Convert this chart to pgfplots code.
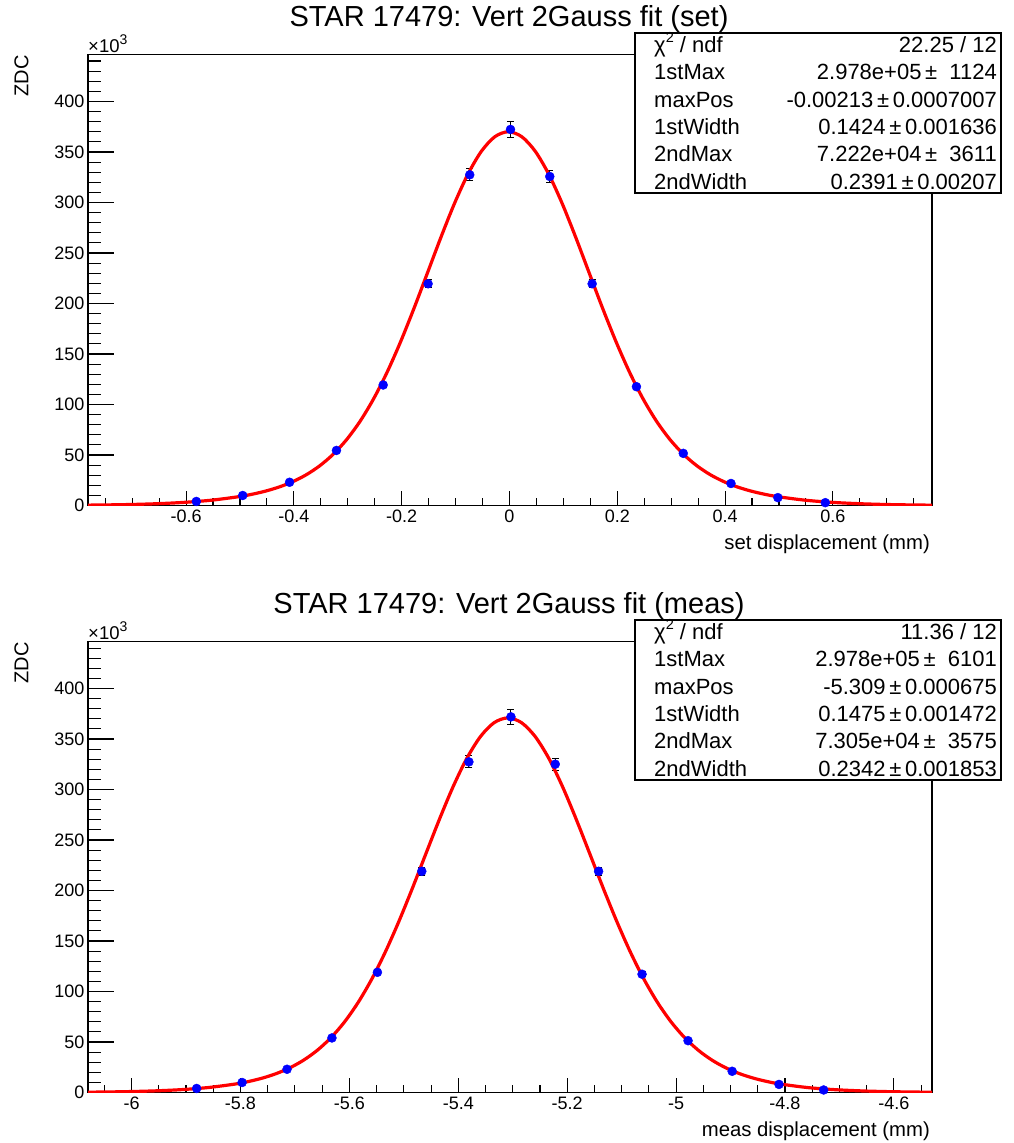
\documentclass[border=0pt]{standalone}
\usepackage{pgfplots}
\pgfplotsset{compat=1.18}
\usepackage{fontspec}
\setmainfont{Liberation Sans}

\newcommand{\fs}[1]{\fontsize{#1}{#1}\selectfont}

\pgfplotsset{
  rootbase/.style={
    scale only axis, width=844pt, height=451pt,
    anchor=south west,
    axis line style={line width=1.4pt, black},
    tick align=inside, xtick pos=bottom, ytick pos=left,
    ymin=0, ymax=446.5,
    tick style={black, line width=1.1pt},
    ticklabel style={font=\fs{18}},
    yticklabel style={xshift=0pt},
    xticklabel style={yshift=-1pt},
    scaled ticks=false,
  },
  % x ticks + data
  rootaxis/.style={rootbase,
    ytick=\empty, minor ytick={},
    major tick length=14pt, minor tick length=7.3pt,
  },
  % y ticks only
  yaxis/.style={rootbase,
    xtick=\empty, minor xtick={},
    ytick={0,50,100,150,200,250,300,350,400},
    yticklabels={0,50,100,150,200,250,300,350,400},
    minor ytick={10,20,...,440},
    major tick length=25.7pt, minor tick length=13pt,
  },
  ptstyle/.style={only marks, mark=*, mark size=4.5pt, color=blue,
    mark options={fill=blue, draw=blue},
    error bars/.cd, y dir=both, y explicit,
    error bar style={black, line width=1pt},
    error mark options={rotate=90, black, mark size=3.5pt, line width=1pt}},
  fitstyle/.style={red, line width=3.2pt, no markers, smooth},
}

\pgfplotstableread{
x y e
-0.581 4.0 0.5
-0.495 9.9 0.6
-0.408 23.0 0.8
-0.321 54.5 1.5
-0.2343 119.3 2.5
-0.151 219.5 4
-0.0737 327.4 6
0.0019 372.3 7.5
0.0748 325.7 6
0.1534 219.5 4
0.2356 117.6 2.5
0.3225 51.6 1.5
0.411 21.8 0.8
0.498 7.8 0.5
0.586 2.8 0.5
}\setdata

\pgfplotstableread{
x y e
-5.8805 4.0 0.5
-5.797 9.9 0.6
-5.7145 23.0 0.8
-5.632 54.0 1.5
-5.5485 119.0 2.5
-5.467 219.0 4
-5.3805 327.3 6
-5.3033 371.9 7.5
-5.2219 325.0 6
-5.1423 219.0 4
-5.0625 117.1 2.5
-4.978 51.3 1.5
-4.897 21.0 0.8
-4.811 8.0 0.5
-4.729 2.5 0.5
}\measdata

\begin{document}
\begin{tikzpicture}[x=1pt,y=1pt]
\path[use as bounding box] (0,0) rectangle (1014,1143);

% ---------------- top panel ----------------
\begin{axis}[yaxis, at={(88pt,637.5pt)}, xmin=-0.782, xmax=0.784]
\end{axis}
\begin{axis}[rootaxis, at={(88pt,637.5pt)},
  xmin=-0.782, xmax=0.784,
  xtick={-0.6,-0.4,-0.2,0,0.2,0.4,0.6},
  xticklabels={-0.6,-0.4,-0.2,0,0.2,0.4,0.6},
  minor xtick={-0.75,-0.7,-0.65,-0.6,-0.55,-0.5,-0.45,-0.4,-0.35,-0.3,-0.25,-0.2,-0.15,-0.1,-0.05,0,0.05,0.1,0.15,0.2,0.25,0.3,0.35,0.4,0.45,0.5,0.55,0.6,0.65,0.7,0.75}]
\addplot[ptstyle] table[x=x, y=y, y error=e] {\setdata};
\addplot[fitstyle] coordinates {
(-0.79213,0.31) (-0.75213,0.53) (-0.70213,0.99) (-0.65213,1.80) (-0.60213,3.14)
(-0.55213,5.29) (-0.50213,8.74) (-0.47713,11.18) (-0.45213,14.31) (-0.42713,18.35)
(-0.40213,23.58) (-0.37713,30.40) (-0.35213,39.27) (-0.32713,50.69) (-0.30213,65.24)
(-0.27713,83.41) (-0.25213,105.58) (-0.22713,131.85) (-0.20213,161.96) (-0.17713,195.20)
(-0.15213,230.31) (-0.12713,265.58) (-0.10213,298.89) (-0.07713,327.98) (-0.05213,350.65)
(-0.02713,365.08) (-0.00213,370.02) (0.02287,365.08) (0.04787,350.65) (0.07287,327.98)
(0.09787,298.89) (0.12287,265.58) (0.14787,230.31) (0.17287,195.20) (0.19787,161.96)
(0.22287,131.85) (0.24787,105.58) (0.27287,83.41) (0.29787,65.24) (0.32287,50.69)
(0.34787,39.27) (0.37287,30.40) (0.39787,23.58) (0.42287,18.35) (0.44787,14.31)
(0.47287,11.18) (0.49787,8.74) (0.54787,5.29) (0.59787,3.14) (0.64787,1.80)
(0.69787,0.99) (0.74787,0.53) (0.78787,0.31)};
\end{axis}

% ---------------- bottom panel ----------------
\begin{axis}[yaxis, at={(88pt,50.5pt)}, xmin=-6.080, xmax=-4.530]
\end{axis}
\begin{axis}[rootaxis, at={(88pt,50.5pt)},
  xmin=-6.080, xmax=-4.530,
  xtick={-6,-5.8,-5.6,-5.4,-5.2,-5,-4.8,-4.6},
  xticklabels={-6,-5.8,-5.6,-5.4,-5.2,-5,-4.8,-4.6},
  minor xtick={-6.05,-6,-5.95,-5.9,-5.85,-5.8,-5.75,-5.7,-5.65,-5.6,-5.55,-5.5,-5.45,-5.4,-5.35,-5.3,-5.25,-5.2,-5.15,-5.1,-5.05,-5,-4.95,-4.9,-4.85,-4.8,-4.75,-4.7,-4.65,-4.6,-4.55}]
\addplot[ptstyle] table[x=x, y=y, y error=e] {\measdata};
\addplot[fitstyle] coordinates {
(-6.109,0.21) (-6.059,0.43) (-6.009,0.84) (-5.959,1.57) (-5.909,2.82)
(-5.859,4.92) (-5.809,8.43) (-5.784,11.01) (-5.759,14.37) (-5.734,18.77)
(-5.709,24.52) (-5.684,32.03) (-5.659,41.74) (-5.634,54.17) (-5.609,69.80)
(-5.584,89.04) (-5.559,112.13) (-5.534,139.08) (-5.509,169.50) (-5.484,202.58)
(-5.459,237.06) (-5.434,271.30) (-5.409,303.35) (-5.384,331.09) (-5.359,352.57)
(-5.334,366.19) (-5.309,370.85) (-5.284,366.19) (-5.259,352.57) (-5.234,331.09)
(-5.209,303.35) (-5.184,271.30) (-5.159,237.06) (-5.134,202.58) (-5.109,169.50)
(-5.084,139.08) (-5.059,112.13) (-5.034,89.04) (-5.009,69.80) (-4.984,54.17)
(-4.959,41.74) (-4.934,32.03) (-4.909,24.52) (-4.884,18.77) (-4.859,14.37)
(-4.834,11.01) (-4.809,8.43) (-4.759,4.92) (-4.709,2.82) (-4.659,1.57)
(-4.609,0.84) (-4.559,0.43) (-4.509,0.21)};
\end{axis}

% ---------------- texts, top ----------------
\node[anchor=base, font=\fs{29}, inner sep=0] at (509,1116) {STAR 17479: Vert 2Gauss fit (set)};
\node[anchor=base west, font=\fs{18.5}, inner sep=0] at (88,1090.3) {×10\raisebox{0.42em}{\fs{14}3}};
\node[anchor=base east, rotate=90, font=\fs{20}, inner sep=0] at (28.3,1088) {ZDC};
\node[anchor=base east, font=\fs{20.3}, inner sep=0] at (930,593.3) {set displacement (mm)};
\draw[line width=1.4pt, fill=white] (635,1110) rectangle (1001,950);
\begin{scope}[every node/.style={font=\fs{22}, inner sep=0}]
\node[anchor=base west] at (654,1090.3) {χ\raisebox{0.45em}{\fs{14.5}2} / ndf};
\node[anchor=base east] at (997,1090.3) {22.25 / 12};
\node[anchor=base west] at (654,1063) {1stMax};
\node[anchor=base east] at (997,1063) {2.978e+05\,±\ \ 1124};
\node[anchor=base west] at (654,1035.7) {maxPos};
\node[anchor=base east] at (997,1035.7) {-0.00213\,±\,0.0007007};
\node[anchor=base west] at (654,1008.4) {1stWidth};
\node[anchor=base east] at (997,1008.4) {0.1424\,±\,0.001636};
\node[anchor=base west] at (654,981.1) {2ndMax};
\node[anchor=base east] at (997,981.1) {7.222e+04\,±\ \ 3611};
\node[anchor=base west] at (654,953.8) {2ndWidth};
\node[anchor=base east] at (997,953.8) {0.2391\,±\,0.00207};
\end{scope}

% ---------------- texts, bottom ----------------
\node[anchor=base, font=\fs{29}, inner sep=0] at (509,529) {STAR 17479: Vert 2Gauss fit (meas)};
\node[anchor=base west, font=\fs{18.5}, inner sep=0] at (88,503.3) {×10\raisebox{0.42em}{\fs{14}3}};
\node[anchor=base east, rotate=90, font=\fs{20}, inner sep=0] at (28.3,501) {ZDC};
\node[anchor=base east, font=\fs{20.3}, inner sep=0] at (930,6.3) {meas displacement (mm)};
\draw[line width=1.4pt, fill=white] (635,523) rectangle (1001,363);
\begin{scope}[every node/.style={font=\fs{22}, inner sep=0}]
\node[anchor=base west] at (654,503.3) {χ\raisebox{0.45em}{\fs{14.5}2} / ndf};
\node[anchor=base east] at (997,503.3) {11.36 / 12};
\node[anchor=base west] at (654,476) {1stMax};
\node[anchor=base east] at (997,476) {2.978e+05\,±\ \ 6101};
\node[anchor=base west] at (654,448.7) {maxPos};
\node[anchor=base east] at (997,448.7) {-5.309\,±\,0.000675};
\node[anchor=base west] at (654,421.4) {1stWidth};
\node[anchor=base east] at (997,421.4) {0.1475\,±\,0.001472};
\node[anchor=base west] at (654,394.1) {2ndMax};
\node[anchor=base east] at (997,394.1) {7.305e+04\,±\ \ 3575};
\node[anchor=base west] at (654,366.8) {2ndWidth};
\node[anchor=base east] at (997,366.8) {0.2342\,±\,0.001853};
\end{scope}
\end{tikzpicture}
\end{document}
